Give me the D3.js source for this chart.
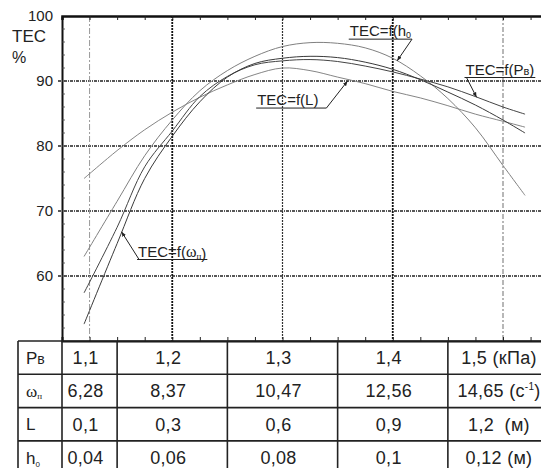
<!DOCTYPE html>
<html>
<head>
<meta charset="utf-8">
<script src="https://cdn.jsdelivr.net/npm/d3@7"></script>
<style>
  body { margin: 0; background: #fff; }
  text { font-family: "Liberation Sans", Arial, sans-serif; fill: #222; white-space: pre; }
  .serif { font-family: "Liberation Serif", "Times New Roman", serif; }
</style>
</head>
<body>
<svg id="chart" width="541" height="468"></svg>
<script>
// x positions (Pв, кПа) at which the curves were read
const pvGrid = [1.12, 1.15, 1.175, 1.2, 1.225, 1.25, 1.275, 1.3, 1.325, 1.35, 1.375, 1.4, 1.425, 1.45, 1.475, 1.5, 1.52];

// TEC values (%) for each curve
const tecH0    = [63.0, 71.5, 78.5, 84.0, 88.5, 91.6, 93.8, 95.3, 95.9, 95.8, 95.1, 93.5, 90.8, 87.3, 82.8, 77.0, 72.4];
const tecPv    = [57.4, 67.5, 76.8, 82.3, 87.6, 90.7, 92.5, 93.1, 93.3, 93.0, 92.3, 91.4, 90.3, 89.1, 87.6, 86.0, 84.9];
const tecL     = [75.0, 79.3, 82.5, 85.2, 87.5, 89.4, 91.0, 92.0, 91.6, 90.6, 89.6, 88.4, 87.4, 86.2, 84.9, 83.8, 82.9];
const tecOmega = [52.6, 65.0, 75.0, 81.5, 86.8, 90.6, 92.7, 93.5, 93.8, 93.6, 92.9, 91.8, 90.2, 88.3, 86.3, 84.0, 82.0];

// y axis ticks and grid
const yTicks = [60, 70, 80, 90, 100];
const yGrid = [60, 70, 80, 90];

// column centres / grid lines and column borders of the table (in Pв units)
const colCenters = [1.125, 1.2, 1.3, 1.4, 1.5];
const colBorders = [1.1, 1.15, 1.25, 1.35, 1.45];

// table rows
const rowPv    = ["1,1", "1,2", "1,3", "1,4", "1,5 (кПа)"];
const rowOmega = ["6,28", "8,37", "10,47", "12,56", "14,65 (с"];
const rowL     = ["0,1", "0,3", "0,6", "0,9", "1,2  (м)"];
const rowH0    = ["0,04", "0,06", "0,08", "0,1", "0,12 (м)"];

const svg = d3.select("#chart");

// scales
const x = d3.scaleLinear().domain([1.1, 1.6]).range([62, 613.25]);
const y = d3.scaleLinear().domain([50, 100]).range([341, 16]);

const plotTop = y(100), plotBottom = y(50), plotLeft = x(1.1), plotRight = 541;

// horizontal grid
svg.append("g")
  .selectAll("line")
  .data(yGrid)
  .join("line")
  .attr("x1", plotLeft - 4)
  .attr("x2", plotRight)
  .attr("y1", d => y(d))
  .attr("y2", d => y(d))
  .attr("stroke", "#222")
  .attr("stroke-width", 1.4)
  .attr("stroke-dasharray", "3,1,1,1");

// vertical grid lines, each drawn a bit differently in the original
const vStyle = [
  { c: "#999", w: 1, dash: "6,2,2,2" },
  { c: "#111", w: 1.8, dash: "2,1" },
  { c: "#333", w: 1.2, dash: "2,1" },
  { c: "#111", w: 1.8, dash: "2,1" },
  { c: "#888", w: 1.2, dash: "5,2,2,2" }
];
svg.append("g")
  .selectAll("line")
  .data(colCenters)
  .join("line")
  .attr("x1", d => x(d))
  .attr("x2", d => x(d))
  .attr("y1", plotTop)
  .attr("y2", plotBottom)
  .attr("stroke", (d, i) => vStyle[i].c)
  .attr("stroke-width", (d, i) => vStyle[i].w)
  .attr("stroke-dasharray", (d, i) => vStyle[i].dash);

// minor ticks on top and bottom
const minorX = d3.range(0, 17).map(i => 1.125 + i * 0.025);
svg.append("g")
  .attr("transform", `translate(0,${plotTop})`)
  .call(d3.axisTop(x).tickValues(minorX).tickSize(-4).tickFormat(""))
  .call(g => g.select(".domain").attr("stroke-width", 2.5).attr("stroke", "#111"))
  .call(g => g.selectAll(".tick line").attr("stroke", "#222"));

svg.append("g")
  .attr("transform", `translate(0,${plotBottom})`)
  .call(d3.axisBottom(x).tickValues(minorX).tickSize(-4).tickFormat(""))
  .call(g => g.select(".domain").attr("stroke-width", 2).attr("stroke", "#111"))
  .call(g => g.selectAll(".tick line").attr("stroke", "#222"));

// left axis
svg.append("g")
  .attr("transform", `translate(${plotLeft},0)`)
  .call(d3.axisLeft(y).tickValues(yTicks).tickSize(0).tickPadding(9))
  .call(g => g.select(".domain").attr("stroke-width", 2).attr("stroke", "#111"))
  .call(g => g.selectAll(".tick text")
    .attr("font-size", "15px")
    .attr("font-family", "Liberation Sans, Arial, sans-serif")
    .attr("fill", "#222"));

// minor ticks inside left axis
svg.append("g")
  .selectAll("line")
  .data(d3.range(52, 100, 2))
  .join("line")
  .attr("x1", plotLeft)
  .attr("x2", plotLeft + 3)
  .attr("y1", d => y(d))
  .attr("y2", d => y(d))
  .attr("stroke", "#444")
  .attr("stroke-width", 0.8);

// axis title
svg.append("text").attr("x", 12).attr("y", 42).attr("font-size", "17px").text("TEC");
svg.append("text").attr("x", 12).attr("y", 63).attr("font-size", "16px").text("%");

// curves
const line = d3.line()
  .x(d => x(d[0]))
  .y(d => y(d[1]))
  .curve(d3.curveCatmullRom.alpha(0.5));

const curves = [
  { vals: tecL, color: "#777", w: 0.9 },
  { vals: tecH0, color: "#808080", w: 1 },
  { vals: tecPv, color: "#444", w: 1 },
  { vals: tecOmega, color: "#3a3a3a", w: 1 }
];

svg.append("g")
  .selectAll("path")
  .data(curves)
  .join("path")
  .attr("d", d => line(pvGrid.map((p, i) => [p, d.vals[i]])))
  .attr("fill", "none")
  .attr("stroke", d => d.color)
  .attr("stroke-width", d => d.w);

// arrow marker
svg.append("defs").append("marker")
  .attr("id", "arr")
  .attr("viewBox", "0 0 10 10")
  .attr("refX", 10).attr("refY", 5)
  .attr("markerWidth", 5).attr("markerHeight", 5)
  .attr("orient", "auto")
  .append("path")
  .attr("d", "M0,1 L10,5 L0,9 z")
  .attr("fill", "#222");

// annotations: text position, arrow tip, and where the arrow leaves the underline
const notes = [
  { parts: [["TEC=f(h", ""], ["0", "sub"]], tx: 1.361, ty: 96.9, tip: [1.404, 93.1], from: "end" },
  { parts: [["TEC=f(P", ""], ["в", "small"], [")", ""]], tx: 1.466, ty: 91.0, tip: [1.476, 87.5], from: "start" },
  { parts: [["TEC=f(L)", ""]], tx: 1.277, ty: 86.3, tip: [1.359, 90.0], from: "endpad" },
  { parts: [["TEC=f(", ""], ["ω", "serif"], ["п", "subserif"], [")", ""]], tx: 1.169, ty: 63.0, tip: [1.154, 66.8], from: "start" }
];

notes.forEach(n => {
  const t = svg.append("text")
    .attr("x", x(n.tx))
    .attr("y", y(n.ty))
    .attr("font-size", "15px");
  n.parts.forEach(([s, kind]) => {
    const ts = t.append("tspan").text(s);
    if (kind === "sub") ts.attr("font-size", "9px").attr("dy", "2");
    if (kind === "small") ts.attr("font-size", "11px");
    if (kind === "serif") ts.attr("class", "serif").attr("font-size", "16px");
    if (kind === "subserif") ts.attr("class", "serif").attr("font-size", "9px").attr("dy", "2");
  });
  const bb = t.node().getBBox();
  const uy = y(n.ty) + 3;
  const x0 = bb.x - 1;
  const x1 = bb.x + bb.width + (n.from === "endpad" ? 8 : 1);
  svg.append("line")
    .attr("x1", x0).attr("x2", x1)
    .attr("y1", uy).attr("y2", uy)
    .attr("stroke", "#222").attr("stroke-width", 1);
  const sx = n.from === "start" ? x0 + 2 : x1;
  svg.append("line")
    .attr("x1", sx).attr("y1", uy)
    .attr("x2", x(n.tip[0])).attr("y2", y(n.tip[1]))
    .attr("stroke", "#222").attr("stroke-width", 1)
    .attr("marker-end", "url(#arr)");
});

// table
const rowTop = plotBottom;
const rowH = 33.3;
const rows = [
  { label: "Рв", vals: rowPv },
  { label: "ω", vals: rowOmega },
  { label: "L", vals: rowL },
  { label: "h", vals: rowH0 }
];
const tableLeft = 18;

const table = svg.append("g");

// horizontal table lines
table.selectAll(".hrow")
  .data(d3.range(rows.length + 1))
  .join("line")
  .attr("class", "hrow")
  .attr("x1", tableLeft).attr("x2", plotRight)
  .attr("y1", i => rowTop + i * rowH)
  .attr("y2", i => rowTop + i * rowH)
  .attr("stroke", "#222").attr("stroke-width", 1.6);

// vertical table lines
table.selectAll(".vcol")
  .data([null].concat(colBorders))
  .join("line")
  .attr("class", "vcol")
  .attr("x1", d => d === null ? tableLeft : x(d))
  .attr("x2", d => d === null ? tableLeft : x(d))
  .attr("y1", rowTop)
  .attr("y2", rowTop + rows.length * rowH)
  .attr("stroke", "#222").attr("stroke-width", 1.6);

// row labels
rows.forEach((r, i) => {
  const cy = rowTop + i * rowH + rowH / 2;
  const t = table.append("text")
    .attr("x", 26)
    .attr("y", cy)
    .attr("dy", "0.36em")
    .attr("font-size", "17px");
  if (i === 0) {
    t.append("tspan").text("Р");
    t.append("tspan").attr("font-size", "14px").text("в");
  } else if (i === 1) {
    t.append("tspan").attr("class", "serif").attr("font-size", "17px").text("ω");
    t.append("tspan").attr("class", "serif").attr("font-size", "9px").attr("dy", "2").text("п");
  } else if (i === 2) {
    t.text("L");
  } else {
    t.append("tspan").text("h");
    t.append("tspan").attr("font-size", "8px").attr("dy", "3").text("0");
  }
});

// cell values
rows.forEach((r, i) => {
  const cy = rowTop + i * rowH + rowH / 2;
  table.selectAll(`.cell${i}`)
    .data(r.vals)
    .join("text")
    .attr("class", `cell${i}`)
    .attr("x", (d, j) => x(colCenters[j]) - 4)
    .attr("y", cy)
    .attr("dy", "0.36em")
    .attr("text-anchor", "middle")
    .attr("font-size", "18px")
    .attr("letter-spacing", "0.3px")
    .each(function(d, j) {
      const t = d3.select(this);
      if (i === 1 && j === 4) {
        t.append("tspan").text(d);
        t.append("tspan").attr("font-size", "10px").attr("dy", "-7").text("-1");
        t.append("tspan").attr("dy", "7").text(")");
      } else {
        t.text(d);
      }
    });
});
</script>
</body>
</html>
